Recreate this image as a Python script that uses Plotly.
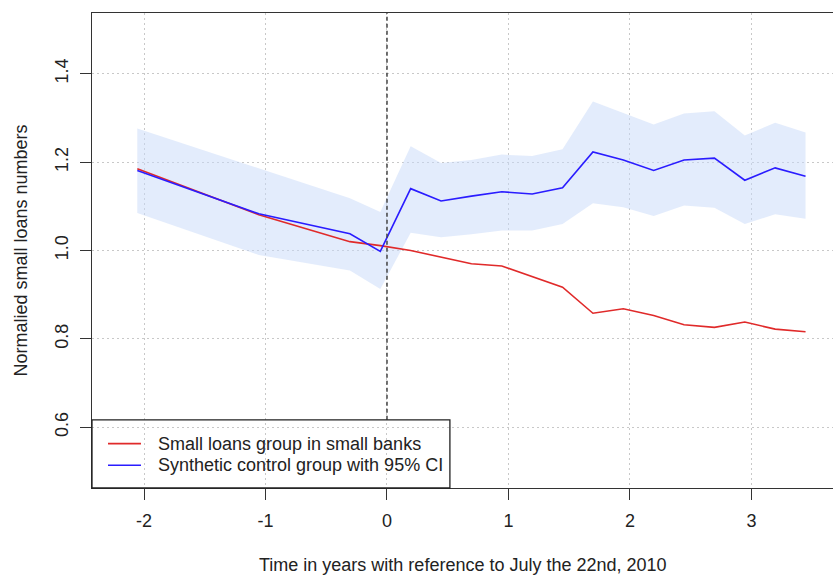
import plotly.graph_objects as go

# Time in years relative to 22 July 2010 (quarterly observations after the event)
years = [-2.055, -1.055, -0.305, -0.055, 0.195, 0.445, 0.695, 0.945, 1.195,
         1.445, 1.695, 1.945, 2.195, 2.445, 2.695, 2.945, 3.195, 3.445]

# Normalised number of small loans in small banks (treated group)
treated = [1.185, 1.081, 1.020, 1.011, 1.000, 0.985, 0.970, 0.965, 0.941,
           0.917, 0.858, 0.868, 0.853, 0.832, 0.826, 0.838, 0.822, 0.816]

# Synthetic control estimate and its 95% confidence interval
synthetic = [1.181, 1.083, 1.038, 0.998, 1.140, 1.112, 1.123, 1.133, 1.128,
             1.142, 1.223, 1.205, 1.181, 1.205, 1.209, 1.159, 1.187, 1.168]
ci_upper = [1.276, 1.186, 1.118, 1.087, 1.236, 1.198, 1.205, 1.217, 1.214,
            1.229, 1.337, 1.311, 1.285, 1.310, 1.315, 1.260, 1.289, 1.267]
ci_lower = [1.085, 0.990, 0.955, 0.913, 1.040, 1.030, 1.037, 1.045, 1.045,
            1.060, 1.107, 1.098, 1.078, 1.102, 1.097, 1.060, 1.082, 1.072]

x_ticks = [-2, -1, 0, 1, 2, 3]
x_tick_text = ["-2", "-1", "0", "1", "2", "3"]
y_ticks = [0.6, 0.8, 1.0, 1.2, 1.4]
y_tick_text = ["0.6", "0.8", "1.0", "1.2", "1.4"]

legend_labels = ["Small loans group in small banks",
                 "Synthetic control group with 95% CI"]
x_title = "Time in years with reference to July the 22nd, 2010"
y_title = "Normalied small loans numbers"

RED = "#e02a2a"
BLUE = "#2a1cff"
FONT = "Liberation Sans"
INK = "#222222"
FS = 18

fig = go.Figure()

# confidence band (semi-transparent so the grid stays visible through it)
fig.add_trace(go.Scatter(x=years, y=ci_lower, mode="lines",
                         line=dict(width=0), hoverinfo="skip", showlegend=False))
fig.add_trace(go.Scatter(x=years, y=ci_upper, mode="lines", fill="tonexty",
                         fillcolor="rgba(200,217,249,0.5)", line=dict(width=0),
                         hoverinfo="skip", showlegend=False))

fig.add_trace(go.Scatter(x=years, y=treated, mode="lines", name=legend_labels[0],
                         line=dict(color=RED, width=1.6), showlegend=False))
fig.add_trace(go.Scatter(x=years, y=synthetic, mode="lines", name=legend_labels[1],
                         line=dict(color=BLUE, width=1.6), showlegend=False))

# legend box geometry, in axis-domain fractions
leg_x1, leg_y1 = 0.483, 0.1436

shapes = [
    # treatment date marker, stopping at the legend box
    dict(type="line", xref="x", yref="y domain", x0=0, x1=0, y0=leg_y1, y1=1,
         line=dict(color="#444444", width=1.5, dash="4px,3px"), layer="above"),
    # legend frame
    dict(type="rect", xref="x domain", yref="y domain", x0=0, x1=leg_x1,
         y0=0, y1=leg_y1, line=dict(color="#222222", width=1.3),
         fillcolor="rgba(0,0,0,0)", layer="above"),
]
for row, color in enumerate([RED, BLUE]):
    yy = 0.0935 - row * 0.0455
    shapes.append(dict(type="line", xref="x domain", yref="y domain",
                       x0=0.0216, x1=0.0661, y0=yy, y1=yy,
                       line=dict(color=color, width=1.6), layer="above"))

annotations = []
for row, label in enumerate(legend_labels):
    yy = 0.0935 - row * 0.0455
    annotations.append(dict(text=label, xref="x domain", yref="y domain",
                            x=0.0870, y=yy, xanchor="left", yanchor="middle",
                            showarrow=False, font=dict(family=FONT, size=FS, color=INK)))
annotations.append(dict(text=x_title, xref="paper", yref="paper", x=0.5, y=-0.163,
                        xanchor="center", yanchor="middle", showarrow=False,
                        font=dict(family=FONT, size=FS, color=INK)))
annotations.append(dict(text=y_title, xref="paper", yref="paper", x=-0.097, y=0.5,
                        xanchor="center", yanchor="middle", textangle=-90,
                        showarrow=False, font=dict(family=FONT, size=FS, color=INK)))

fig.update_layout(
    width=833, height=575,
    margin=dict(l=92, r=0, t=13, b=87),
    plot_bgcolor="white", paper_bgcolor="white",
    font=dict(family=FONT, size=FS, color=INK),
    shapes=shapes, annotations=annotations,
    showlegend=False,
)
grid_style = dict(showgrid=True, gridcolor="#c8c8c8", griddash="2px,3px", gridwidth=1,
                  zeroline=False)
fig.update_xaxes(range=[-2.428, 3.671], tickvals=x_ticks, ticktext=x_tick_text,
                 showline=True, mirror=True, linecolor="#333333", linewidth=1.4,
                 ticks="outside", ticklen=11, tickwidth=1.2, tickcolor="#333333",
                 ticklabelstandoff=5, **grid_style)
fig.update_yaxes(range=[0.4625, 1.5375], tickvals=y_ticks, ticktext=y_tick_text,
                 tickangle=-90, ticklabelstandoff=5,
                 showline=True, mirror=False, linecolor="#333333", linewidth=1.4,
                 ticks="outside", ticklen=11, tickwidth=1.2, tickcolor="#333333",
                 **grid_style)

fig.write_html("out.html")
